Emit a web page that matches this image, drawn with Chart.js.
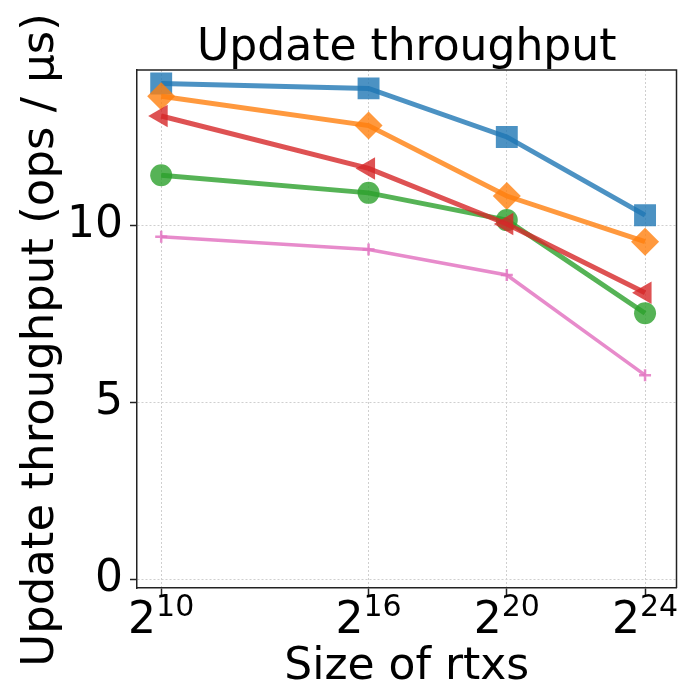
<!DOCTYPE html>
<html>
<head>
<meta charset="utf-8">
<title>Update throughput</title>
<script src="https://cdn.jsdelivr.net/npm/chart.js@4.4.1/dist/chart.umd.min.js"></script>
<style>
  html, body { margin: 0; padding: 0; background: #fff; }
  #wrap { width: 692px; height: 690px; }
</style>
</head>
<body>
<div id="wrap"><canvas id="chart" width="692" height="690"></canvas></div>
<script>
// Size of rtxs, stored as the power of two (2^n).
const sizeExponents = [10, 16, 20, 24];
const xTickExponents = [10, 16, 20, 24];
const yTickValues = [0, 5, 10];

// Update throughput (ops / us) per series.
const blueSeries = [14.0, 13.86, 12.49, 10.28];
const orangeSeries = [13.64, 12.81, 10.82, 9.53];
const greenSeries = [11.41, 10.91, 10.14, 7.51];
const redSeries = [13.08, 11.60, 10.03, 8.09];
const pinkSeries = [9.67, 9.31, 8.59, 5.76];

const FONT = '"DejaVu Sans", "Liberation Sans", sans-serif';
Chart.defaults.font.family = FONT;
Chart.defaults.color = "#000";

// Pair each value with its exponent on the x axis.
function toPoints(values) {
  return values.map((v, i) => ({ x: sizeExponents[i], y: v }));
}

// Draws the title, the top/right frame, the 2^n tick labels and the rotated y title.
const extraText = {
  id: "extraText",
  afterDraw(chart) {
    const ctx = chart.ctx;
    const area = chart.chartArea;
    const xScale = chart.scales.x;
    ctx.save();

    ctx.strokeStyle = "#222";
    ctx.lineWidth = 1.5;
    ctx.beginPath();
    ctx.moveTo(area.left, area.top);
    ctx.lineTo(area.right, area.top);
    ctx.lineTo(area.right, area.bottom);
    ctx.stroke();

    ctx.fillStyle = "#000";
    ctx.textBaseline = "alphabetic";

    // Title, centred over the plot area.
    ctx.textAlign = "center";
    ctx.font = "44px " + FONT;
    ctx.fillText("Update throughput", (area.left + area.right) / 2, area.top - 10);

    ctx.textAlign = "left";
    xTickExponents.forEach((n) => {
      const px = xScale.getPixelForValue(n);
      ctx.font = "44px " + FONT;
      const baseW = ctx.measureText("2").width;
      ctx.font = "30px " + FONT;
      const expW = ctx.measureText(String(n)).width;
      const start = px - (baseW + expW) / 2;
      ctx.font = "44px " + FONT;
      ctx.fillText("2", start, area.bottom + 45);
      ctx.font = "30px " + FONT;
      ctx.fillText(String(n), start + baseW, area.bottom + 28);
    });

    ctx.translate(53, 340);
    ctx.rotate(-Math.PI / 2);
    ctx.textAlign = "center";
    ctx.font = "45px " + FONT;
    ctx.fillText("Update throughput (ops / \u03bcs)", 0, 0);
    ctx.restore();
  }
};

new Chart(document.getElementById("chart"), {
  type: "line",
  data: {
    datasets: [
      {
        data: toPoints(blueSeries),
        borderColor: "rgba(31,119,180,0.8)",
        backgroundColor: "rgba(31,119,180,0.8)",
        borderWidth: 5,
        pointStyle: "rect",
        pointRadius: 15.5,
        pointBorderWidth: 0,
        order: 5
      },
      {
        data: toPoints(orangeSeries),
        borderColor: "rgba(255,127,14,0.8)",
        backgroundColor: "rgba(255,127,14,0.8)",
        borderWidth: 5,
        pointStyle: "rectRot",
        pointRadius: 14,
        pointBorderWidth: 0,
        order: 4
      },
      {
        data: toPoints(greenSeries),
        borderColor: "rgba(44,160,44,0.8)",
        backgroundColor: "rgba(44,160,44,0.8)",
        borderWidth: 5,
        pointStyle: "circle",
        pointRadius: 11,
        pointBorderWidth: 0,
        order: 3
      },
      {
        data: toPoints(redSeries),
        borderColor: "rgba(214,39,40,0.8)",
        backgroundColor: "rgba(214,39,40,0.8)",
        borderWidth: 5,
        pointStyle: "triangle",
        pointRotation: -90,
        pointRadius: 13,
        pointBorderWidth: 0,
        order: 2
      },
      {
        data: toPoints(pinkSeries),
        borderColor: "rgba(227,119,194,0.85)",
        backgroundColor: "rgba(227,119,194,0.85)",
        borderWidth: 3.5,
        pointStyle: "cross",
        pointRadius: 6,
        pointBorderWidth: 2.5,
        order: 1
      }
    ]
  },
  options: {
    responsive: false,
    animation: false,
    devicePixelRatio: 1,
    layout: { padding: { top: 70, right: 3, bottom: 0, left: 0 } },
    elements: { line: { tension: 0 } },
    plugins: {
      legend: { display: false },
      tooltip: { enabled: false },
      title: { display: false }
    },
    scales: {
      x: {
        type: "linear",
        min: 9.3,
        max: 24.91,
        afterBuildTicks: (scale) => { scale.ticks = xTickExponents.map((v) => ({ value: v })); },
        afterFit: (scale) => { scale.height = 102; },
        ticks: { display: false },
        grid: {
          color: "#cfcfcf",
          lineWidth: 1,
          drawTicks: true,
          tickLength: 7,
          tickColor: "#222",
          tickWidth: 1.5
        },
        border: { display: true, color: "#222", width: 1.5, dash: [2, 2] },
        title: {
          display: true,
          text: "Size of rtxs",
          color: "#000",
          font: { size: 44, lineHeight: 1 },
          padding: { top: 0, bottom: 0 }
        }
      },
      y: {
        min: -0.25,
        max: 14.38,
        afterBuildTicks: (scale) => { scale.ticks = yTickValues.map((v) => ({ value: v })); },
        afterFit: (scale) => { scale.width = 137; },
        ticks: {
          font: { size: 44 },
          color: "#000",
          padding: 7
        },
        grid: {
          color: "#cfcfcf",
          lineWidth: 1,
          drawTicks: true,
          tickLength: 7,
          tickColor: "#222",
          tickWidth: 1.5
        },
        border: { display: true, color: "#222", width: 1.5, dash: [2, 2] }
      }
    }
  },
  plugins: [extraText]
});
</script>
</body>
</html>
